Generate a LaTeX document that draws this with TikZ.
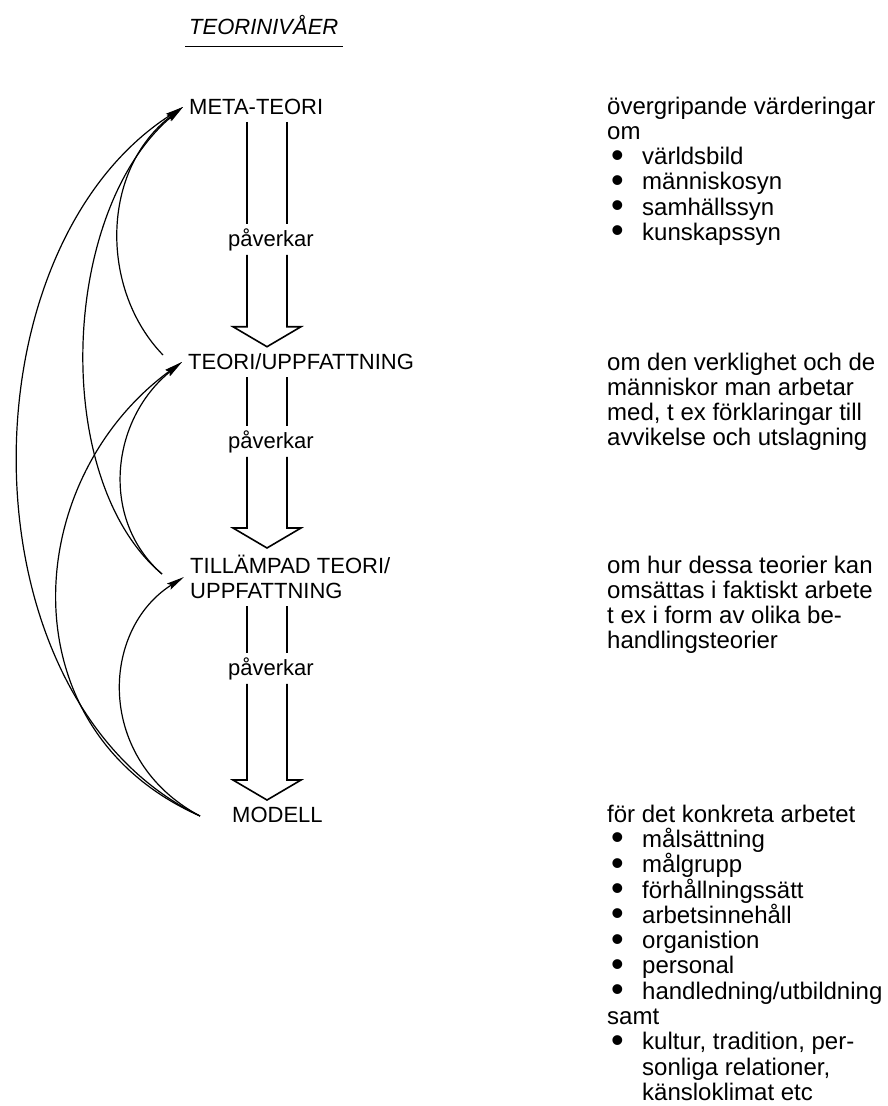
\documentclass[tikz,border=0pt]{standalone}
\usepackage{fontspec}
\setmainfont{Liberation Sans}
\usepackage{graphicx}
\usetikzlibrary{arrows.meta,calc}

\newcommand{\punkt}{\makebox[35pt][l]{\hspace{4pt}\raisebox{-0.1em}{\scalebox{1.5}{\textbullet}}}}
\newcommand{\indrag}{\hspace*{35pt}}

\begin{document}
\begin{tikzpicture}[x=1pt,y=-1pt,
  niva/.style={anchor=west,inner xsep=6pt,inner ysep=7pt,font=\fontsize{22}{25}\selectfont},
  ord/.style={anchor=base,inner xsep=2pt,inner ysep=4pt,font=\fontsize{22}{25}\selectfont},
  beskr/.style={anchor=north west,inner sep=0pt,align=left,font=\fontsize{24}{25.3}\selectfont},
  skaft/.style={line width=1.6pt,line join=miter},
  pil/.style={line width=1.2pt,-{Stealth[length=18pt,width=7pt,inset=3pt]}}]
  \useasboundingbox (0,0) rectangle (888,1106);

  % rubrik
  \node[anchor=base west,inner xsep=4pt,inner ysep=12pt,font=\fontsize{22}{25}\selectfont\itshape] (rubrik) at (185,34) {TEORINIVÅER};
  \draw[line width=1.8pt] (rubrik.south west) -- (rubrik.south east);

  % nivaer
  \node[niva] (meta) at (183,107) {META-TEORI};
  \node[niva] (teori) at (182,362) {TEORI/UPPFATTNING};
  \node[niva,align=left] (till) at (184,577) {TILLÄMPAD TEORI/\\UPPFATTNING};
  \node[niva] (modell) at (226,815) {MODELL};

  \node[ord] (pav1) at (271,246) {påverkar};
  \node[ord] (pav2) at (271,448) {påverkar};
  \node[ord] (pav3) at (271,675) {påverkar};

  % breda pilar
  \coordinate (lx) at (247,0);
  \coordinate (ax) at (267,0);
  \coordinate (rx) at (287,0);
  \foreach \fra/\verk/\til in {meta/pav1/teori,teori/pav2/till,till/pav3/modell}{
    \draw[skaft] (lx |- \fra.south) -- (lx |- \verk.north)
                 (rx |- \fra.south) -- (rx |- \verk.north);
    \draw[skaft] (lx |- \verk.south) -- ($(lx |- \til.north)+(0,-20)$)
      -- ($(ax |- \til.north)+(-34,-20)$) -- (ax |- \til.north)
      -- ($(ax |- \til.north)+(34,-20)$) -- ($(rx |- \til.north)+(0,-20)$)
      -- (rx |- \verk.south);
  }

  % beskrivningar
  \node[beskr] (meta-text) at (607,96.5) {övergripande värderingar\\om\\
    \punkt världsbild\\\punkt människosyn\\\punkt samhällssyn\\\punkt kunskapssyn};
  \node[beskr] (teori-text) at (607,352.5) {om den verklighet och de\\människor man arbetar\\
    med, t ex förklaringar till\\avvikelse och utslagning};
  \node[beskr] (till-text) at (607,555.5) {om hur dessa teorier kan\\omsättas i faktiskt arbete\\
    t ex i form av olika be-\\handlingsteorier};
  \node[beskr] (modell-text) at (607,804.5) {för det konkreta arbetet\\
    \punkt målsättning\\\punkt målgrupp\\\punkt förhållningssätt\\\punkt arbetsinnehåll\\
    \punkt organistion\\\punkt personal\\\punkt handledning/utbildning\\samt\\
    \punkt kultur, tradition, per-\\\indrag sonliga relationer,\\\indrag känsloklimat etc};

  % bakatpilar
  \coordinate (teori-ut) at (163,355);
  \coordinate (till-ut) at (162,574);
  \coordinate (modell-ut) at (200,816);
  \draw[pil] (teori-ut) .. controls (100,290) and (100,170) .. (meta.west);
  \draw[pil] (till-ut) .. controls (50,480) and (60,210) .. (meta.west);
  \draw[pil] (modell-ut) .. controls (-40,700) and (-40,250) .. (meta.west);
  \draw[pil] (modell-ut) .. controls (5,730) and (20,480) .. (teori.west);
  \draw[pil] (till-ut) .. controls (100,520) and (110,420) .. (teori.west);
  \draw[pil] (modell-ut) .. controls (95,760) and (100,630) .. (till.west);
\end{tikzpicture}
\end{document}
